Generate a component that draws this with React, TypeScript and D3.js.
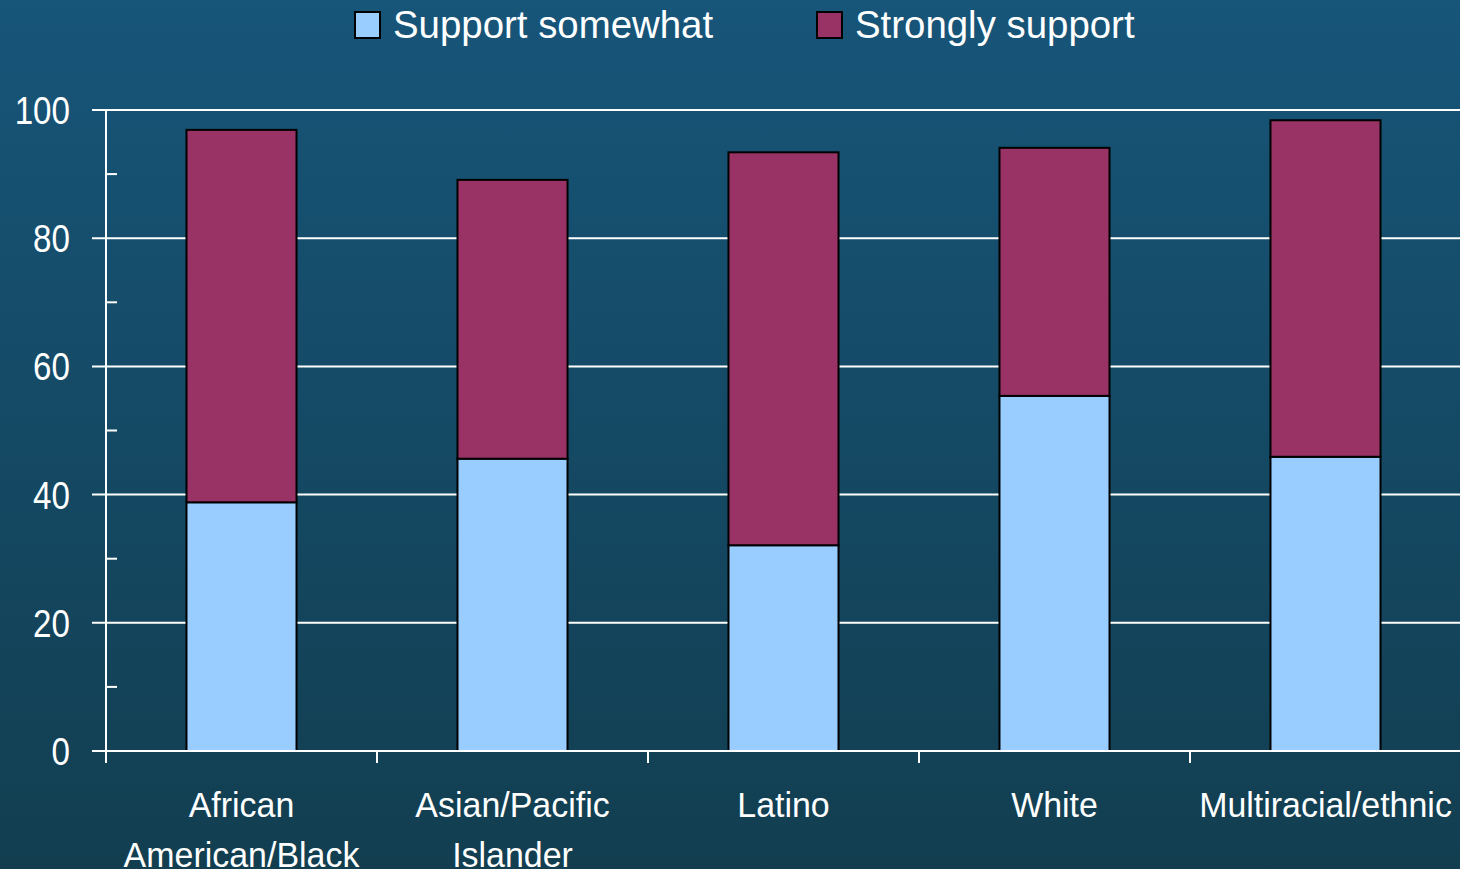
import React from "react";
import * as d3 from "d3";

const categories: string[][] = [
  ["African", "American/Black"],
  ["Asian/Pacific", "Islander"],
  ["Latino"],
  ["White"],
  ["Multiracial/ethnic"],
];
const supportSomewhat = [38.8, 45.6, 32.1, 55.4, 45.9];
const stronglySupport = [58.1, 43.5, 61.3, 38.7, 52.5];
const yTicks = [0, 20, 40, 60, 80, 100];
const minorTicks = [10, 30, 50, 70, 90];
const seriesNames = ["Support somewhat", "Strongly support"];
const seriesColors = ["#99ccff", "#993366"];

const W = 1460;
const H = 869;
const FONT = "'Liberation Sans', Arial, sans-serif";

export default function App() {
  const x0 = 106;
  const x1 = 1461;
  const y = d3.scaleLinear().domain([0, 100]).range([751, 110]);
  const xBand = d3
    .scaleBand<number>()
    .domain(categories.map((_, i) => i))
    .range([x0, x1])
    .paddingInner(0.594)
    .paddingOuter(0.297);
  const step = xBand.step();
  const tickXs = d3.range(categories.length + 1).map((i) => x0 + i * step);

  return (
    <svg
      width={W}
      height={H}
      style={{ position: "fixed", left: 0, top: 0, display: "block" }}
    >
      <defs>
        <linearGradient id="bg" x1="0" y1="0" x2="0" y2="1">
          <stop offset="0" stopColor="#175579" />
          <stop offset="1" stopColor="#123e50" />
        </linearGradient>
      </defs>
      <rect x={0} y={0} width={W} height={H} fill="url(#bg)" />

      {/* gridlines */}
      {yTicks.map((t) => (
        <line key={"g" + t} x1={92} x2={W} y1={y(t)} y2={y(t)} stroke="#ffffff" strokeWidth={2} />
      ))}
      {/* minor ticks */}
      {minorTicks.map((t) => (
        <line key={"m" + t} x1={106} x2={117} y1={y(t)} y2={y(t)} stroke="#ffffff" strokeWidth={2} />
      ))}
      {/* y axis */}
      <line x1={106} x2={106} y1={y(100)} y2={y(0) + 12} stroke="#ffffff" strokeWidth={2} />
      {/* x ticks */}
      {tickXs.map((tx, i) => (
        <line key={"xt" + i} x1={tx} x2={tx} y1={y(0)} y2={y(0) + 12} stroke="#ffffff" strokeWidth={2} />
      ))}

      {/* bars */}
      {categories.map((_, i) => {
        const bx = xBand(i)!;
        const bw = xBand.bandwidth();
        const s = supportSomewhat[i];
        const st = stronglySupport[i];
        return (
          <g key={"b" + i}>
            <rect
              x={bx}
              y={y(s)}
              width={bw}
              height={y(0) - y(s)}
              fill={seriesColors[0]}
              stroke="#000"
              strokeWidth={2}
            />
            <rect
              x={bx}
              y={y(s + st)}
              width={bw}
              height={y(s) - y(s + st)}
              fill={seriesColors[1]}
              stroke="#000"
              strokeWidth={2}
            />
          </g>
        );
      })}
      {/* baseline on top */}
      <line x1={92} x2={W} y1={y(0)} y2={y(0)} stroke="#ffffff" strokeWidth={2} />

      {/* y labels */}
      {yTicks.map((t) => (
        <g key={"yl" + t} transform={`translate(70,${y(t)}) scale(0.85,1)`}>
          <text
            x={0}
            y={0}
            dy="0.36em"
            textAnchor="end"
            fill="#ffffff"
            fontFamily={FONT}
            fontSize={39}
          >
            {t}
          </text>
        </g>
      ))}

      {/* x labels */}
      {categories.map((lines, i) => {
        const cx = xBand(i)! + xBand.bandwidth() / 2;
        return (
          <g key={"xl" + i} transform={`translate(${cx},0) scale(0.97,1)`}>
            <text textAnchor="middle" fill="#ffffff" fontFamily={FONT} fontSize={35}>
              {lines.map((ln, j) => (
                <tspan key={j} x={0} y={817 + j * 50}>
                  {ln}
                </tspan>
              ))}
            </text>
          </g>
        );
      })}

      {/* legend */}
      {seriesNames.map((name, i) => {
        const lx = i === 0 ? 355 : 817;
        return (
          <g key={"lg" + i}>
            <rect x={lx} y={12} width={25} height={26} fill={seriesColors[i]} stroke="#000" strokeWidth={2} />
            <g transform={`translate(${lx + 38},38) scale(0.985,1)`}>
              <text x={0} y={0} fill="#ffffff" fontFamily={FONT} fontSize={39}>
                {name}
              </text>
            </g>
          </g>
        );
      })}
    </svg>
  );
}
